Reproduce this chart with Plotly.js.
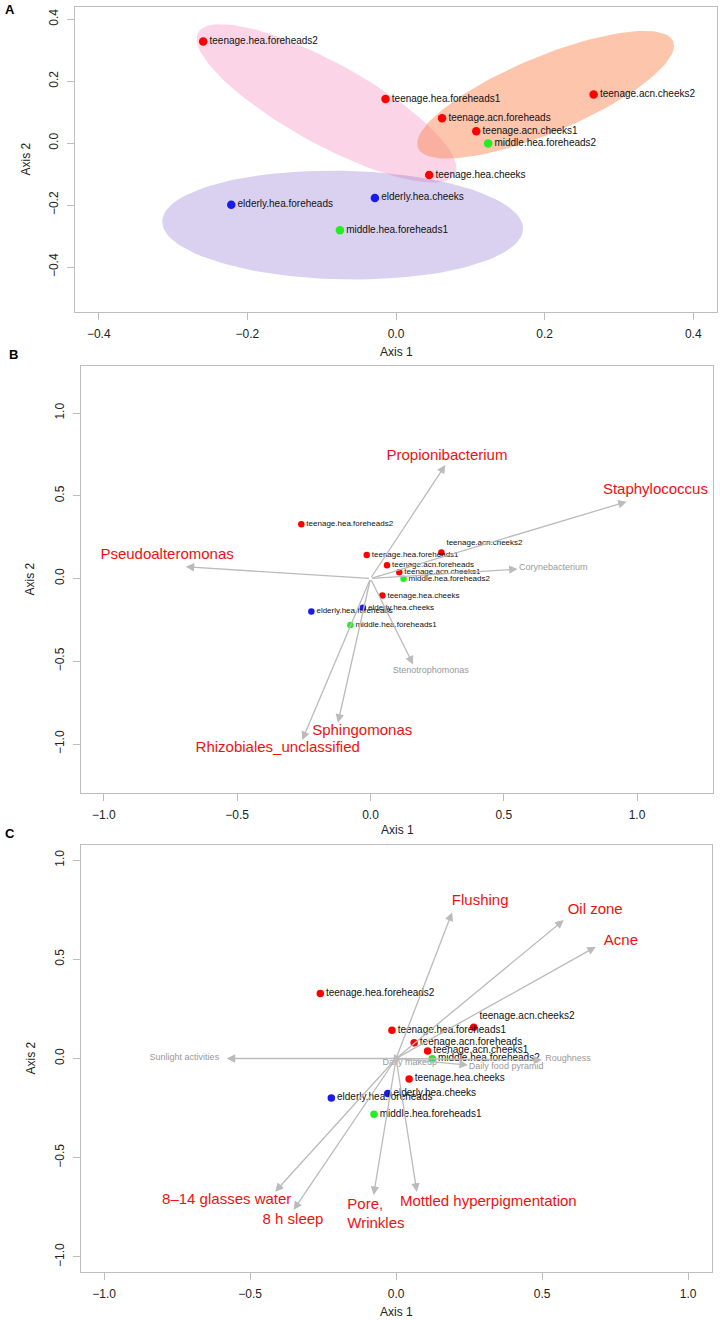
<!DOCTYPE html>
<html>
<head>
<meta charset="utf-8">
<script src="https://cdn.plot.ly/plotly-3.0.1.min.js"></script>
<style>
html,body{margin:0;padding:0;background:#ffffff;}
#chart{width:720px;height:1320px;}
</style>
</head>
<body>
<div id="chart"></div>
<script>
// ---------------- DATA ----------------
// Sample ordination scores (PCoA axis 1 / axis 2)
const samples = ['teenage.hea.foreheads2','teenage.hea.foreheads1','teenage.acn.foreheads','teenage.acn.cheeks1','middle.hea.foreheads2','teenage.acn.cheeks2','teenage.hea.cheeks','elderly.hea.cheeks','elderly.hea.foreheads','middle.hea.foreheads1'];
const sampleGroup = ['teenage','teenage','teenage','teenage','middle','teenage','teenage','elderly','elderly','middle'];
const axis1Scores = [-0.2595, -0.0141, 0.062, 0.108, 0.124, 0.266, 0.0447, -0.0284, -0.2217, -0.0755];
const axis2Scores = [0.328, 0.142, 0.080, 0.038, -0.001, 0.157, -0.103, -0.177, -0.199, -0.281];

// Panel A group ellipses: centre and the two semi-axis vectors (data units)
const ellipseGroup = ['teenage healthy', 'teenage acne', 'middle/elderly'];
const ellipseCx = [-0.0935, 0.2013, -0.0718];
const ellipseCy = [0.128, 0.156, -0.2645];
const ellipseUx = [0.1727, 0.1717, 0.2428];
const ellipseUy = [-0.2284, 0.1720, -0.0122];
const ellipseVx = [-0.0264, 0.0198, -0.0015];
const ellipseVy = [-0.1147, -0.1131, -0.1751];

// Panel B: taxa vectors (arrow tips) and label anchors
const taxa = ['Propionibacterium','Staphylococcus','Pseudoalteromonas','Sphingomonas','Rhizobiales_unclassified','Corynebacterium','Stenotrophomonas'];
const taxaMajor = [true, true, true, true, true, false, false];
const taxaTipX = [0.281, 0.961, -0.693, -0.122, -0.256, 0.552, 0.160];
const taxaTipY = [0.686, 0.464, 0.071, -0.871, -0.976, 0.057, -0.519];
const taxaLabelX = [0.287, 1.069, -0.763, -0.031, -0.348, 0.686, 0.226];
const taxaLabelY = [0.740, 0.535, 0.138, -0.921, -1.026, 0.065, -0.559];

// Panel C: skin / lifestyle factor vectors and label anchors
const factors = ['Flushing','Oil zone','Acne','8–14 glasses water','8 h sleep','Pore,<br>Wrinkles','Mottled hyperpigmentation','Sunlight activities','Roughness','Daily food pyramid','Daily makeup'];
const factorMajor = [true, true, true, true, true, true, true, false, false, false, false];
const factorTipX = [0.192, 0.574, 0.684, -0.414, -0.351, -0.077, 0.071, -0.580, 0.500, 0.246, 0.020];
const factorTipY = [0.736, 0.698, 0.563, -0.671, -0.763, -0.688, -0.671, 0.000, -0.008, -0.033, -0.005];
const factorLabelX = [0.288, 0.682, 0.770, -0.580, -0.353, -0.167, 0.316, -0.725, 0.589, 0.377, 0.047];
const factorLabelY = [0.793, 0.745, 0.589, -0.716, -0.814, -0.788, -0.723, 0.004, 0.000, -0.044, -0.019];

// ---------------- STYLE ----------------
const FONT = '"Liberation Sans", Arial, Helvetica, sans-serif';
const groupColors = {teenage:'#ff0000', middle:'#22ee22', elderly:'#1a1aee'};
const ellipseFills = ['rgba(245,150,195,0.40)', 'rgba(250,140,90,0.50)', 'rgba(150,120,210,0.35)'];
const RED = '#ee1111', GRAY = '#999999', ARROW = '#bbbbbb';
const labelPosA = samples.map(() => 'middle right');
const labelPosB = samples.map(s => s === 'teenage.acn.cheeks2' ? 'top right' : 'middle right');
const labelPosC = samples.map(s => s === 'teenage.acn.cheeks2' ? 'top right' : 'middle right');
const factorTextPos = factors.map(f => f.indexOf('Pore') === 0 ? 'middle right' : 'middle center');

const pointColors = sampleGroup.map(g => groupColors[g]);

const traces = [];

// ellipses (panel A)
const N = 120;
for (let e = 0; e < ellipseGroup.length; e++) {
  const xs = [], ys = [];
  for (let k = 0; k <= N; k++) {
    const t = 2 * Math.PI * k / N;
    xs.push(ellipseCx[e] + ellipseUx[e] * Math.cos(t) + ellipseVx[e] * Math.sin(t));
    ys.push(ellipseCy[e] + ellipseUy[e] * Math.cos(t) + ellipseVy[e] * Math.sin(t));
  }
  traces.push({type:'scatter', mode:'lines', x:xs, y:ys, fill:'toself', fillcolor:ellipseFills[e],
    line:{width:0, color:'rgba(0,0,0,0)'}, hoverinfo:'skip', showlegend:false, xaxis:'x', yaxis:'y', name:ellipseGroup[e]});
}

function pointTrace(ax, size, fsize, pos) {
  return {type:'scatter', mode:'markers+text', x:axis1Scores, y:axis2Scores, text:samples,
    textposition:pos, textfont:{family:FONT, size:fsize, color:'#111111'},
    marker:{color:pointColors, size:size, line:{width:0}}, cliponaxis:false,
    showlegend:false, hoverinfo:'text', xaxis:'x'+ax, yaxis:'y'+ax};
}
traces.push(pointTrace('', 8.5, 10, labelPosA));
traces.push(pointTrace('2', 6.5, 8, labelPosB));
traces.push(pointTrace('3', 7.5, 10, labelPosC));

// vector labels
traces.push({type:'scatter', mode:'text', x:taxaLabelX, y:taxaLabelY, text:taxa, textposition:'middle center',
  textfont:{family:FONT, size:taxaMajor.map(m => m ? 15 : 9), color:taxaMajor.map(m => m ? RED : GRAY)},
  cliponaxis:false, showlegend:false, hoverinfo:'skip', xaxis:'x2', yaxis:'y2'});
traces.push({type:'scatter', mode:'text', x:factorLabelX, y:factorLabelY, text:factors, textposition:factorTextPos,
  textfont:{family:FONT, size:factorMajor.map(m => m ? 15 : 9), color:factorMajor.map(m => m ? RED : GRAY)},
  cliponaxis:false, showlegend:false, hoverinfo:'skip', xaxis:'x3', yaxis:'y3'});

// arrows
const annotations = [];
function addArrows(tipX, tipY, xr, yr) {
  for (let i = 0; i < tipX.length; i++) {
    annotations.push({xref:xr, yref:yr, axref:xr, ayref:yr, x:tipX[i], y:tipY[i], ax:0, ay:0, text:'',
      showarrow:true, arrowhead:2, arrowsize:1.3, arrowwidth:1.3, arrowcolor:ARROW, standoff:0, startstandoff:0});
  }
}
addArrows(taxaTipX, taxaTipY, 'x2', 'y2');
addArrows(factorTipX, factorTipY, 'x3', 'y3');

// panel letters and axis titles
const W = 720, H = 1320;
function px(x){return x / W;}
function py(y){return 1 - y / H;}
[['A', 3, 10], ['B', 7, 354], ['C', 3, 833]].forEach(p => {
  annotations.push({xref:'paper', yref:'paper', x:px(p[1]), y:py(p[2]), xanchor:'left', yanchor:'middle',
    text:'<b>' + p[0] + '</b>', showarrow:false, font:{family:FONT, size:13, color:'#000'}});
});
[[396, 352], [397, 830], [396.5, 1312]].forEach(p => {
  annotations.push({xref:'paper', yref:'paper', x:px(p[0]), y:py(p[1]), xanchor:'center', yanchor:'middle',
    text:'Axis 1', showarrow:false, font:{family:FONT, size:12, color:'#222'}});
});
[[25, 159.5], [30, 579.5], [30, 1058.5]].forEach(p => {
  annotations.push({xref:'paper', yref:'paper', x:px(p[0]), y:py(p[1]), xanchor:'center', yanchor:'middle',
    text:'Axis 2', textangle:-90, showarrow:false, font:{family:FONT, size:12, color:'#222'}});
});

function axis(domain, range, tickvals, isY) {
  return {domain:domain, range:range, tickvals:tickvals, tickformat:'.1f', showgrid:false, zeroline:false,
    showline:true, mirror:true, linecolor:'#bdbdbd', linewidth:1, ticks:'outside', ticklen:7, tickwidth:1,
    tickcolor:'#bdbdbd', tickfont:{family:FONT, size:12, color:'#222'}, tickangle:isY ? -90 : 0,
    ticklabelstandoff:4, fixedrange:true, automargin:false};
}
const tA = [-0.4, -0.2, 0, 0.2, 0.4];
const tBC = [-1, -0.5, 0, 0.5, 1];

const layout = {
  width:W, height:H, margin:{l:0, r:0, t:0, b:0}, paper_bgcolor:'#ffffff', plot_bgcolor:'#ffffff',
  font:{family:FONT}, showlegend:false,
  xaxis: axis([75/W, 717/W], [-0.432, 0.432], tA, false),
  yaxis: axis([1-312/H, 1-7/H], [-0.545, 0.439], tA, true),
  xaxis2: axis([81/W, 713/W], [-1.086, 1.285], tBC, false),
  yaxis2: axis([1-793/H, 1-366/H], [-1.296, 1.284], tBC, true),
  xaxis3: axis([81/W, 712/W], [-1.079, 1.082], tBC, false),
  yaxis3: axis([1-1272/H, 1-845/H], [-1.076, 1.076], tBC, true),
  annotations: annotations
};
layout.yaxis.anchor = 'x'; layout.xaxis.anchor = 'y';
layout.yaxis2.anchor = 'x2'; layout.xaxis2.anchor = 'y2';
layout.yaxis3.anchor = 'x3'; layout.xaxis3.anchor = 'y3';

Plotly.newPlot('chart', traces, layout, {displayModeBar:false, staticPlot:true});
</script>
</body>
</html>
